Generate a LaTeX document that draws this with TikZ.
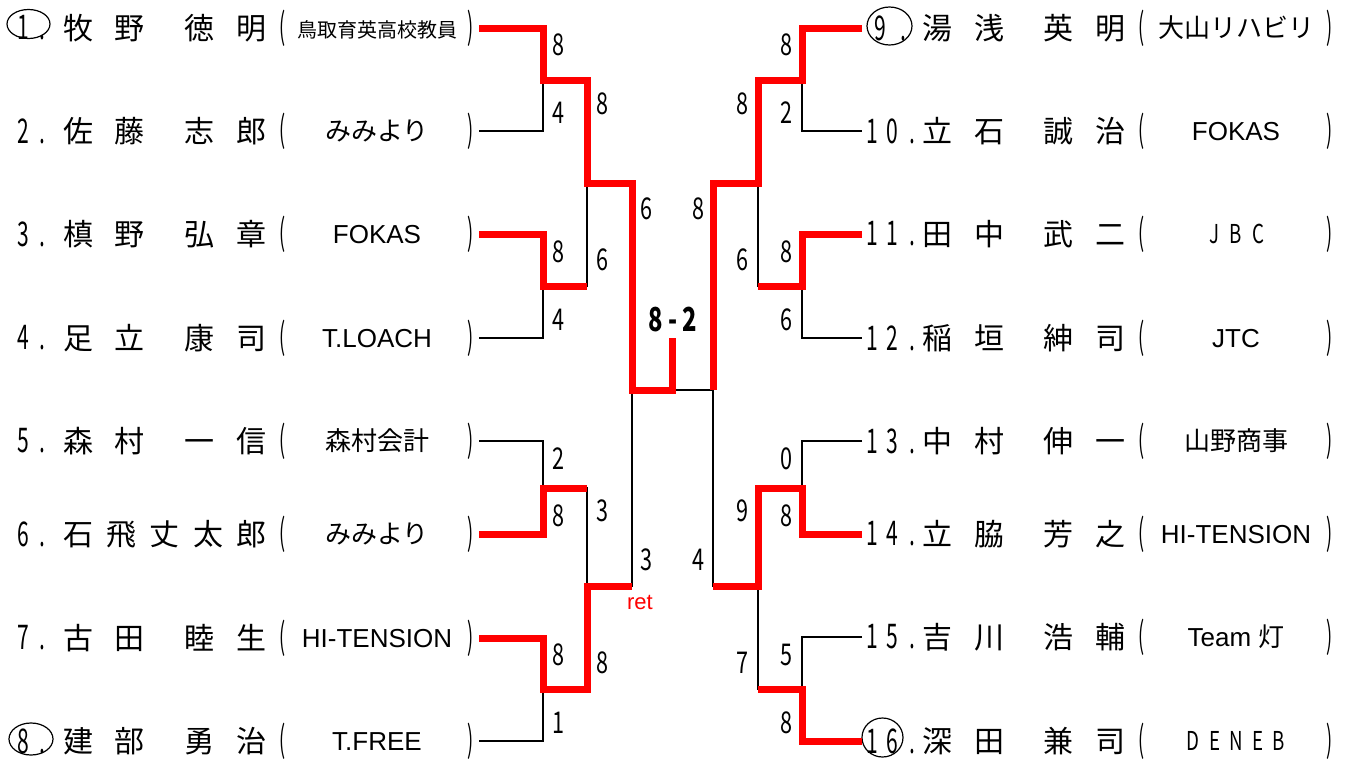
\documentclass[tikz,border=0pt]{standalone}
\usepackage{fontspec}
\setmainfont{Noto Sans CJK JP}
\newfontfamily\latinfont{Liberation Sans}
\newfontfamily\narrowfont[FakeStretch=0.72]{Noto Sans CJK JP}
\newfontfamily\numfont[FakeStretch=0.62]{Noto Sans CJK JP}
\newfontfamily\parenfont[FakeStretch=0.5]{Noto Sans CJK JP}
\newcommand\fourname[4]{\makebox[52pt]{#1}\makebox[52pt]{#2}\hspace{18pt}\makebox[52pt]{#3}\makebox[52pt]{#4}}
\newcommand\fivename[5]{\makebox[43.5pt]{#1}\makebox[43.5pt]{#2}\makebox[43.5pt]{#3}\makebox[43.5pt]{#4}\makebox[43.5pt]{#5}}
\newcommand\paren[1]{\makebox[16pt]{\parenfont\fontsize{36}{36}\selectfont#1}}
\newcommand\team[1]{\paren{(}\makebox[172pt]{\raisebox{2pt}{#1}}\paren{)}}
\begin{document}
\begin{tikzpicture}[x=1pt,y=-1pt,
    lose/.style={line width=2.8pt},
    win/.style={line width=7pt,red},
    pname/.style={inner sep=0pt,font={\fontsize{30}{30}\selectfont}},
    team/.style={inner sep=0pt,font={\fontsize{26}{26}\selectfont}},
    num/.style={inner sep=0pt,font={\numfont\fontsize{34}{34}\selectfont}},
    score/.style={inner sep=0pt,font={\narrowfont\fontsize{30}{30}\selectfont}},
    seed/.style={line width=1.2pt}]
    \useasboundingbox (0,0) rectangle (1352,763);

    % left half
    \node[num] (n1) at (32,28) {\makebox[20pt]{1}\makebox[18pt]{.}};
    \node[num] (n2) at (32,131) {\makebox[20pt]{2}\makebox[18pt]{.}};
    \node[num] (n3) at (32,234) {\makebox[20pt]{3}\makebox[18pt]{.}};
    \node[num] (n4) at (32,338) {\makebox[20pt]{4}\makebox[18pt]{.}};
    \node[num] (n5) at (32,441) {\makebox[20pt]{5}\makebox[18pt]{.}};
    \node[num] (n6) at (32,534) {\makebox[20pt]{6}\makebox[18pt]{.}};
    \node[num] (n7) at (32,638) {\makebox[20pt]{7}\makebox[18pt]{.}};
    \node[num] (n8) at (32,741) {\makebox[20pt]{8}\makebox[18pt]{.}};

    \node[pname] (p1) at (165,28) {\fourname{牧}{野}{徳}{明}};
    \node[pname] (p2) at (165,131) {\fourname{佐}{藤}{志}{郎}};
    \node[pname] (p3) at (165,234) {\fourname{槙}{野}{弘}{章}};
    \node[pname] (p4) at (165,338) {\fourname{足}{立}{康}{司}};
    \node[pname] (p5) at (165,441) {\fourname{森}{村}{一}{信}};
    \node[pname] (p6) at (165,534) {\fivename{石}{飛}{丈}{太}{郎}};
    \node[pname] (p7) at (165,638) {\fourname{古}{田}{睦}{生}};
    \node[pname] (p8) at (165,741) {\fourname{建}{部}{勇}{治}};

    \node[team] (t1) at (377,28) {\team{\fontsize{20}{20}\selectfont 鳥取育英高校教員}};
    \node[team] (t2) at (377,131) {\team{みみより}};
    \node[team] (t3) at (377,234) {\team{\latinfont FOKAS}};
    \node[team] (t4) at (377,338) {\team{\latinfont T.LOACH}};
    \node[team] (t5) at (377,441) {\team{森村会計}};
    \node[team] (t6) at (377,534) {\team{みみより}};
    \node[team] (t7) at (377,638) {\team{\latinfont HI-TENSION}};
    \node[team] (t8) at (377,741) {\team{\latinfont T.FREE}};

    % right half
    \node[num,anchor=west] (n9) at (862,28) {\makebox[36pt]{9}\makebox[10pt]{.}};
    \node[num,anchor=west] (n10) at (862,131) {\makebox[20pt]{1}\makebox[20pt]{0}\makebox[20pt]{.}};
    \node[num,anchor=west] (n11) at (862,234) {\makebox[20pt]{1}\makebox[20pt]{1}\makebox[20pt]{.}};
    \node[num,anchor=west] (n12) at (862,338) {\makebox[20pt]{1}\makebox[20pt]{2}\makebox[20pt]{.}};
    \node[num,anchor=west] (n13) at (862,441) {\makebox[20pt]{1}\makebox[20pt]{3}\makebox[20pt]{.}};
    \node[num,anchor=west] (n14) at (862,534) {\makebox[20pt]{1}\makebox[20pt]{4}\makebox[20pt]{.}};
    \node[num,anchor=west] (n15) at (862,637) {\makebox[20pt]{1}\makebox[20pt]{5}\makebox[20pt]{.}};
    \node[num,anchor=west] (n16) at (862,741) {\makebox[20pt]{1}\makebox[20pt]{6}\makebox[20pt]{.}};

    \node[pname] (p9) at (1024,28) {\fourname{湯}{浅}{英}{明}};
    \node[pname] (p10) at (1024,131) {\fourname{立}{石}{誠}{治}};
    \node[pname] (p11) at (1024,234) {\fourname{田}{中}{武}{二}};
    \node[pname] (p12) at (1024,338) {\fourname{稲}{垣}{紳}{司}};
    \node[pname] (p13) at (1024,441) {\fourname{中}{村}{伸}{一}};
    \node[pname] (p14) at (1024,534) {\fourname{立}{脇}{芳}{之}};
    \node[pname] (p15) at (1024,637) {\fourname{吉}{川}{浩}{輔}};
    \node[pname] (p16) at (1024,741) {\fourname{深}{田}{兼}{司}};

    \node[team] (t9) at (1236,28) {\team{大山リハビリ}};
    \node[team] (t10) at (1236,131) {\team{\latinfont FOKAS}};
    \node[team] (t11) at (1236,234) {\team{\narrowfont\makebox[22pt]{J}\makebox[22pt]{B}\makebox[22pt]{C}}};
    \node[team] (t12) at (1236,338) {\team{\latinfont JTC}};
    \node[team] (t13) at (1236,441) {\team{山野商事}};
    \node[team] (t14) at (1236,534) {\team{\latinfont HI-TENSION}};
    \node[team] (t15) at (1236,637) {\team{{\latinfont Team }灯}};
    \node[team] (t16) at (1236,741) {\team{\narrowfont\makebox[21.5pt]{D}\makebox[21.5pt]{E}\makebox[21.5pt]{N}\makebox[21.5pt]{E}\makebox[21.5pt]{B}}};

    % seeds
    \draw[seed] (28.5,24) ellipse (21.5 and 14.5);
    \draw[seed] (31,739) ellipse (22 and 16);
    \draw[seed] (889.5,26) ellipse (22.5 and 19);
    \draw[seed] (882.5,737.5) ellipse (20.5 and 19.5);

    % joints
    \coordinate (m1) at (543,80);
    \coordinate (m2) at (543,286);
    \coordinate (m3) at (543,488);
    \coordinate (m4) at (543,689);
    \coordinate (m5) at (587,183);
    \coordinate (m6) at (587,586);
    \coordinate (m7) at (632,390);
    \coordinate (m8) at (713,390);
    \coordinate (m9) at (802,80);
    \coordinate (m10) at (802,286);
    \coordinate (m11) at (802,488);
    \coordinate (m12) at (802,689);
    \coordinate (m13) at (758,183);
    \coordinate (m14) at (758,586);
    \coordinate (fin) at (672,338);

    \draw[lose] (t1.east) -| (m1) |- (t2.east);
    \draw[lose] (t3.east) -| (m2) |- (t4.east);
    \draw[lose] (t5.east) -| (m3) |- (t6.east);
    \draw[lose] (t7.east) -| (m4) |- (t8.east);
    \draw[lose] (m1) -| (m5) |- (m2);
    \draw[lose] (m3) -| (m6) |- (m4);
    \draw[lose] (m5) -| (m7) |- (m6);
    \draw[lose] (m7) -- (m8);
    \draw[lose] (n9.west) -| (m9) |- (n10.west);
    \draw[lose] (n11.west) -| (m10) |- (n12.west);
    \draw[lose] (n13.west) -| (m11) |- (n14.west);
    \draw[lose] (n15.west) -| (m12) |- (n16.west);
    \draw[lose] (m9) -| (m13) |- (m10);
    \draw[lose] (m11) -| (m14) |- (m12);
    \draw[lose] (m13) -| (m8) |- (m14);

    \draw[win] (t1.east) -| (m1) -| (m5) -| (m7) -| (fin);
    \draw[win] (t3.east) -| (m2) -- (m2 -| m5);
    \draw[win] (t6.east) -| (m3) -- (m3 -| m6);
    \draw[win] (t7.east) -| (m4) -| (m6) -- (m6 -| m7);
    \draw[win] (n9.west) -| (m9) -| (m13) -| (m8);
    \draw[win] (n11.west) -| (m10) -- (m10 -| m13);
    \draw[win] (n14.west) -| (m11) -| (m14) -- (m14 -| m8);
    \draw[win] (n16.west) -| (m12) -- (m12 -| m14);

    % scores
    \node[score] (a1) at (558,45) {8};
    \node[score] (a2) at (558,113) {4};
    \node[score] (a3) at (558,252) {8};
    \node[score] (a4) at (558,320) {4};
    \node[score] (a5) at (558,459) {2};
    \node[score] (a6) at (558,516) {8};
    \node[score] (a7) at (558,655) {8};
    \node[score] (a8) at (558,723) {1};
    \node[score] (a9) at (786,45) {8};
    \node[score] (a10) at (786,113) {2};
    \node[score] (a11) at (786,252) {8};
    \node[score] (a12) at (786,320) {6};
    \node[score] (a13) at (786,459) {0};
    \node[score] (a14) at (786,516) {8};
    \node[score] (a15) at (786,655) {5};
    \node[score] (a16) at (786,723) {8};
    \node[score] (b1) at (602,104) {8};
    \node[score] (b2) at (602,260) {6};
    \node[score] (b3) at (602,511) {3};
    \node[score] (b4) at (602,663) {8};
    \node[score] (b5) at (742,104) {8};
    \node[score] (b6) at (742,260) {6};
    \node[score] (b7) at (742,511) {9};
    \node[score] (b8) at (742,663) {7};
    \node[score] (c1) at (646,209) {6};
    \node[score] (c2) at (646,560) {3};
    \node[score] (c3) at (698,209) {8};
    \node[score] (c4) at (698,560) {4};
    \node[score,font={\narrowfont\bfseries\fontsize{33}{33}\selectfont}] (fs) at (673,320) {8 - 2};
    \node[inner sep=0pt,red,font={\latinfont\fontsize{22}{22}\selectfont}] (rt) at (640,602) {ret};
\end{tikzpicture}
\end{document}
